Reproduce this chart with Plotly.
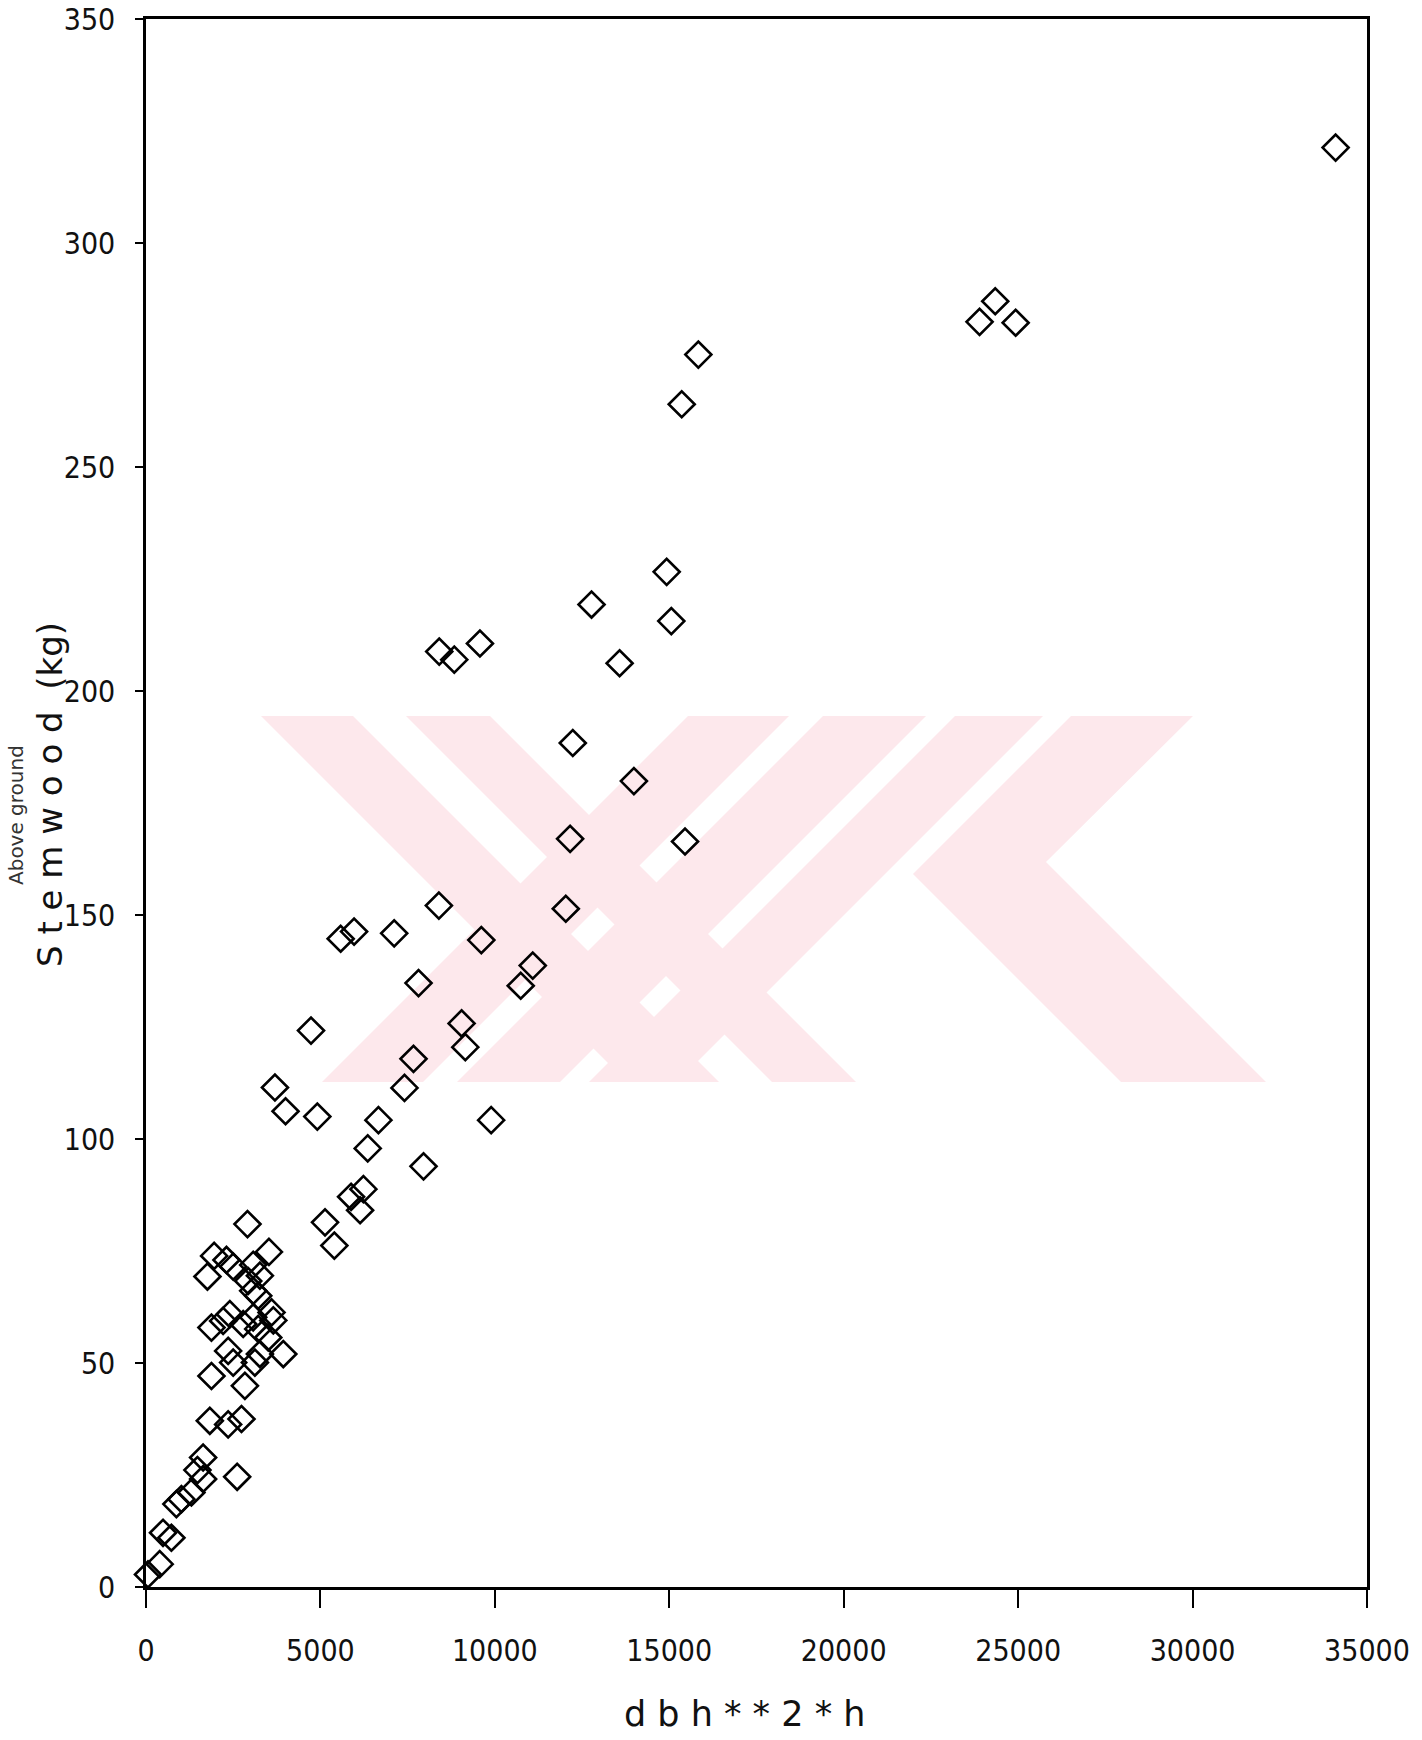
import plotly.graph_objects as go

# dbh^2 * h (cm^2 * m) and stemwood dry mass (kg) per sampled tree
dbh2h = [
    34100, 24343, 23894, 24928, 15833, 15356, 14925, 15058, 12771, 13576,
    8406, 8837, 9572, 12234, 13986, 12157, 15451, 8395, 12033, 5965,
    5580, 7114, 9612, 7812, 11086, 10741, 4730, 9047, 9153, 7668,
    7410, 3696, 4000, 4911, 9894, 6663, 6356, 7955, 6232, 5879,
    6137, 5132, 5399, 2909, 3524, 1953, 2307, 2500, 1761, 3073,
    3265, 2929, 3073, 3217, 1876, 2403, 2211, 2786, 3073, 3599,
    3650, 3217, 3504, 3935, 2355, 2499, 3122, 3265, 1876, 2835,
    1829, 2355, 2737, 1637, 2613, 1474, 1637, 1302, 1015, 871,
    488, 728, 393, 57,
]
stemwood_kg = [
    321.3, 287.0, 282.4, 282.2, 275.1, 264.0, 226.6, 215.6, 219.3, 206.2,
    208.8, 207.0, 210.6, 188.4, 179.9, 167.0, 166.4, 152.1, 151.4, 146.3,
    144.7, 145.9, 144.4, 134.8, 138.7, 134.2, 124.2, 125.8, 120.5, 117.9,
    111.4, 111.5, 106.2, 105.0, 104.2, 104.2, 97.9, 93.9, 88.8, 87.1,
    84.1, 81.4, 76.2, 81.0, 74.8, 73.9, 73.0, 71.5, 69.3, 71.9,
    69.5, 68.3, 66.1, 65.0, 57.9, 60.9, 59.4, 58.7, 60.2, 61.3,
    59.5, 57.6, 55.7, 52.0, 52.7, 50.1, 50.1, 52.0, 47.1, 44.9,
    37.1, 36.3, 37.5, 28.9, 24.6, 26.1, 24.1, 21.1, 19.6, 18.5,
    12.1, 11.0, 5.1, 2.8,
]

x_ticks = [0, 5000, 10000, 15000, 20000, 25000, 30000, 35000]
y_ticks = [0, 50, 100, 150, 200, 250, 300, 350]

W, H = 1422, 1740
ML, MR, MT, MB = 146, 55, 19, 153
PW, PH = W - ML - MR, H - MT - MB


def paper(px, py):
    """Page pixel position -> paper coordinates of the plot area."""
    return (px - ML) / PW, (H - MB - py) / PH


def band(points):
    pts = [paper(px, py) for px, py in points]
    path = "M " + " L ".join(f"{x:.5f},{y:.5f}" for x, y in pts) + " Z"
    return dict(type="path", xref="paper", yref="paper", path=path,
                fillcolor="#fde8ec", line=dict(width=0), layer="below")


# pale diagonal stripes of the background logo
TOP, BOT = 716, 1082
logo = [
    # two falling stripes from the upper left
    [(261, TOP), (353, TOP), (719, BOT), (627, BOT)],
    [(406, TOP), (490, TOP), (856, BOT), (772, BOT)],
    # three rising stripes
    [(322, BOT), (423, BOT), (789, TOP), (688, TOP)],
    [(457, BOT), (560, BOT), (926, TOP), (823, TOP)],
    [(589, BOT), (677, BOT), (1043, TOP), (955, TOP)],
    # chevron on the right
    [(1071, TOP), (1193, TOP), (1046, 862), (1266, BOT), (1121, BOT), (913, 874)],
]

fig = go.Figure()
fig.add_trace(go.Scatter(
    x=dbh2h, y=stemwood_kg, mode="markers",
    marker=dict(symbol="diamond-open", size=20, color="black",
                line=dict(width=2.6, color="black")),
    showlegend=False, cliponaxis=False,
))

tick_font = dict(family="DejaVu Sans Condensed, Liberation Sans Narrow, sans-serif",
                 size=30, color="#111")

fig.update_xaxes(
    range=[0, 35000], tickvals=x_ticks, ticktext=[str(v) for v in x_ticks],
    showgrid=False, zeroline=False, showline=True, linecolor="black",
    linewidth=2.5, mirror=True, ticks="outside", ticklen=18, tickwidth=2,
    tickcolor="black", tickfont=tick_font, ticklabelstandoff=17,
    automargin=False,
)
fig.update_yaxes(
    range=[0, 350], tickvals=y_ticks, ticktext=[str(v) for v in y_ticks],
    showgrid=False, zeroline=False, showline=True, linecolor="black",
    linewidth=2.5, mirror=True, ticks="outside", ticklen=8, tickwidth=2,
    tickcolor="black", tickfont=tick_font, ticklabelstandoff=14,
    automargin=False,
)

label_font = dict(family="DejaVu Sans, sans-serif", size=34, color="#111")
yt_x, yt_y = paper(50, 795)
cut_x, cut_y = paper(16, 815)
xt_x, xt_y = paper(744, 1714)

fig.update_layout(
    width=W, height=H,
    margin=dict(l=ML, r=MR, t=MT, b=MB, autoexpand=False),
    paper_bgcolor="white", plot_bgcolor="white",
    shapes=[band(p) for p in logo],
    annotations=[
        dict(text="S t e m w o o d  (kg)", x=yt_x, y=yt_y, xref="paper", yref="paper",
             textangle=-90, showarrow=False, xanchor="center", yanchor="middle",
             font=label_font),
        dict(text="Above ground", x=cut_x, y=cut_y, xref="paper", yref="paper",
             textangle=-90, showarrow=False, xanchor="center", yanchor="middle",
             font=dict(family="DejaVu Sans, sans-serif", size=20, color="#333")),
        dict(text="d b h * * 2 * h", x=xt_x, y=xt_y, xref="paper", yref="paper",
             showarrow=False, xanchor="center", yanchor="middle",
             font=dict(family="DejaVu Sans, sans-serif", size=35, color="#111")),
    ],
)

fig.write_html("out.html")
